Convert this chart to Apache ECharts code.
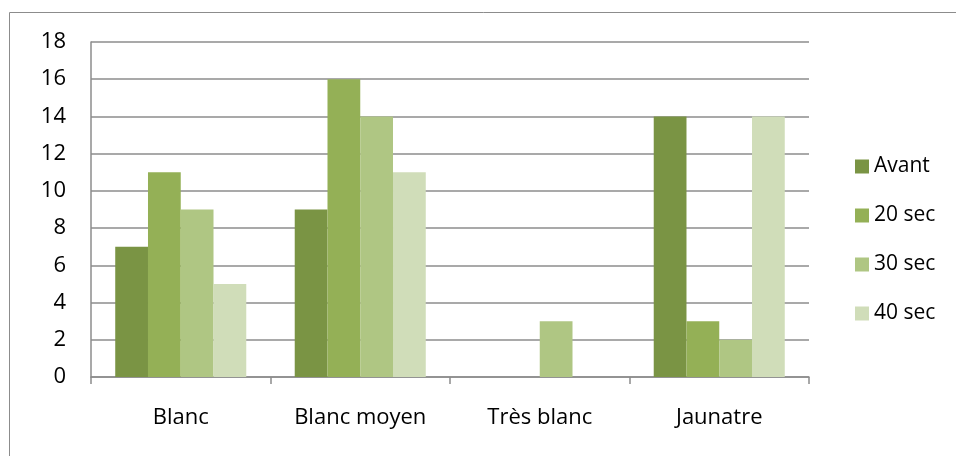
<!DOCTYPE html>
<html>
<head>
<meta charset="utf-8">
<script src="https://cdn.jsdelivr.net/npm/echarts@6/dist/echarts.min.js"></script>
<style>
html, body { margin: 0; padding: 0; background: #fff; }
#chart { width: 956px; height: 456px; }
</style>
</head>
<body>
<div id="chart"></div>
<script>
// categories et valeurs
var categories = ['Blanc', 'Blanc moyen', 'Très blanc', 'Jaunatre'];
var avant = [7, 9, 0, 14];
var sec20 = [11, 16, 0, 3];
var sec30 = [9, 14, 3, 2];
var sec40 = [5, 11, 0, 14];
var seriesNames = ['Avant', '20 sec', '30 sec', '40 sec'];
var colors = ['#7a9444', '#94b056', '#afc683', '#d0ddb9'];

var myChart = echarts.init(document.getElementById('chart'));
var font = 'Open Sans, Liberation Sans, sans-serif';

function mkSeries(name, data) {
    return {
        name: name,
        type: 'bar',
        data: data,
        barGap: '0%',
        barCategoryGap: '27%'
    };
}

var option = {
    animation: false,
    color: colors,
    graphic: [{
        type: 'rect',
        shape: { x: 9.5, y: 12.5, width: 1000, height: 500 },
        style: { fill: 'none', stroke: '#8c8c8c', lineWidth: 1 },
        silent: true
    }],
    legend: {
        orient: 'vertical',
        left: 850,
        top: 151,
        itemWidth: 14,
        itemHeight: 14,
        itemGap: 28,
        icon: 'rect',
        textStyle: { fontFamily: font, fontSize: 21, color: '#000' },
        data: seriesNames
    },
    grid: {
        left: 91,
        right: 147,
        top: 42,
        bottom: 79
    },
    xAxis: {
        type: 'category',
        data: categories,
        axisLine: { lineStyle: { color: '#8c8c8c', width: 1.5 } },
        axisTick: { show: true, length: 7, lineStyle: { color: '#8c8c8c', width: 1.5 } },
        axisLabel: { fontFamily: font, fontSize: 22, color: '#000', margin: 30 }
    },
    yAxis: {
        type: 'value',
        min: 0,
        max: 18,
        interval: 2,
        axisLine: { show: true, lineStyle: { color: '#8c8c8c', width: 1.5 } },
        axisTick: { show: false },
        splitLine: { lineStyle: { color: '#8c8c8c', width: 1.5 } },
        axisLabel: { fontFamily: font, fontSize: 22, color: '#000', margin: 25 }
    },
    series: [
        mkSeries(seriesNames[0], avant),
        mkSeries(seriesNames[1], sec20),
        mkSeries(seriesNames[2], sec30),
        mkSeries(seriesNames[3], sec40)
    ]
};
myChart.setOption(option);
</script>
</body>
</html>
